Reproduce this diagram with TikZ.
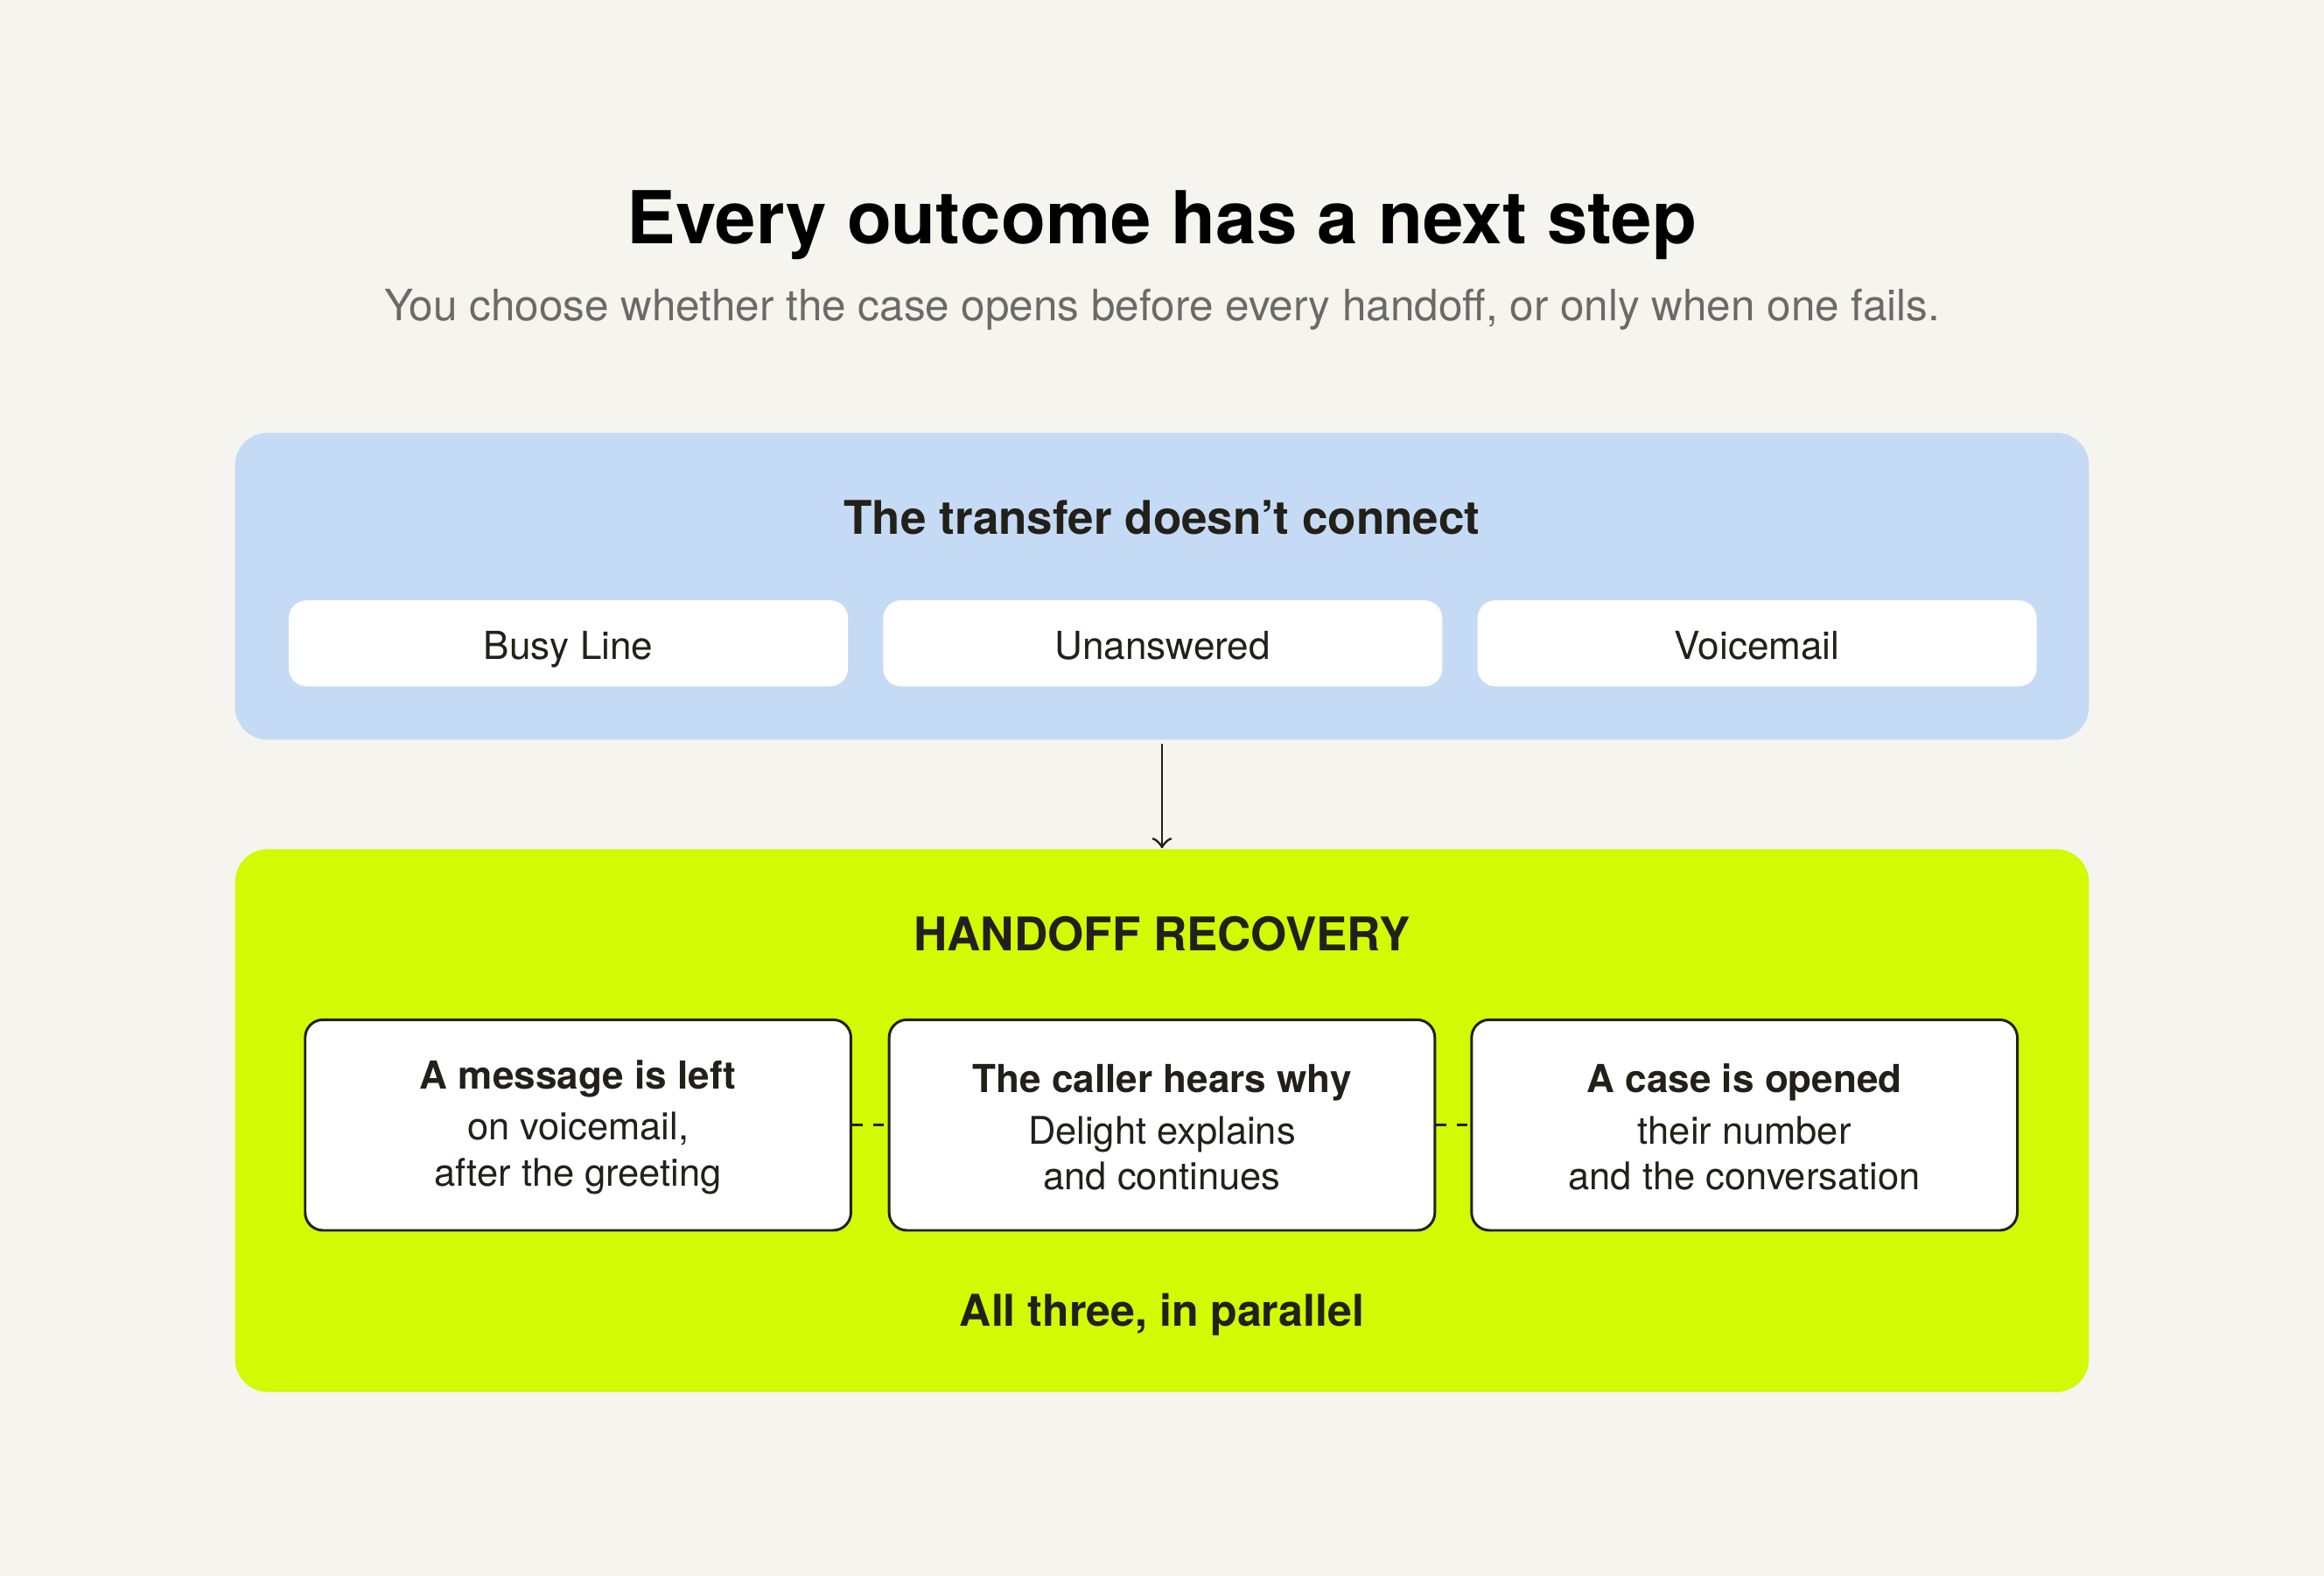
\documentclass[tikz,border=0pt]{standalone}
\usepackage{fontspec}
\setmainfont{TeX Gyre Heros}
\usetikzlibrary{positioning}
\definecolor{paper}{HTML}{F5F4EF}
\definecolor{skyfill}{HTML}{C5DAF5}
\definecolor{limefill}{HTML}{D2FA05}
\definecolor{ink}{HTML}{222018}
\definecolor{greytext}{HTML}{6B6A66}

\begin{document}
\begin{tikzpicture}[x=0.01cm,y=-0.01cm,
    panel/.style={rounded corners=0.22cm, inner sep=0pt},
    pill/.style={fill=white, rounded corners=0.12cm, minimum width=3.77cm, minimum height=0.58cm, inner sep=0pt, text height=1.6ex, text depth=0.45ex, font=\fontsize{7.4}{9}\selectfont, text=ink},
    outcome/.style={draw=ink, line width=0.5pt, fill=white, rounded corners=0.12cm, minimum width=3.68cm, minimum height=1.42cm, inner sep=0pt, align=center, font=\fontsize{7.3}{8.8}\selectfont, text=ink},
    heading/.style={font=\fontsize{8.9}{11}\selectfont\bfseries, text=ink}]
        % background
        \fill[paper] (0,0) rectangle (1568,1063);
        \useasboundingbox (0,0) rectangle (1568,1063);
        \node (title) at (784,152) {\fontsize{14}{17}\selectfont\bfseries Every outcome has a next step};
        \node[text=greytext] (sub) at (784,209) {\fontsize{8.3}{10}\selectfont You choose whether the case opens before every handoff, or only when one fails.};

        % failure panel
        \node[panel, fill=skyfill, minimum width=12.5cm, minimum height=2.07cm] (fail) at (784,395.5) {};
        \node[heading] (failhead) at (784,349) {The transfer doesn’t connect};
        \node[pill] (busy) at (383.5,434) {Busy Line};
        \node[pill] (unans) at (784.5,434) {Unanswered};
        \node[pill] (voice) at (1185.5,434) {Voicemail};

        % recovery panel
        \node[panel, fill=limefill, minimum width=12.5cm, minimum height=3.66cm] (recov) at (784,756) {};
        \node[heading] (recovhead) at (784,630) {HANDOFF RECOVERY};
        \node[outcome] (msg) at (390,759) {\textbf{\fontsize{7.4}{9}\selectfont A message is left\strut}\\[1pt] on voicemail,\\ after the greeting};
        \node[outcome] (why) at (784,759) {\textbf{\fontsize{7.4}{9}\selectfont The caller hears why\strut}\\[1pt] Delight explains\\ and continues};
        \node[outcome] (case) at (1177,759) {\textbf{\fontsize{7.4}{9}\selectfont A case is opened\strut}\\[1pt] their number\\ and the conversation};
        \node[text=ink] (par) at (784,887) {\fontsize{8.4}{10}\selectfont\bfseries All three, in parallel};

        \draw[ink, dash pattern=on 2pt off 2pt, line width=0.5pt] (msg.east) -- (why.west);
        \draw[ink, dash pattern=on 2pt off 2pt, line width=0.5pt] (why.east) -- (case.west);
        \draw[->, ink, line width=0.5pt] ([yshift=-0.02cm]fail.south) -- (recov.north);
\end{tikzpicture}
\end{document}
